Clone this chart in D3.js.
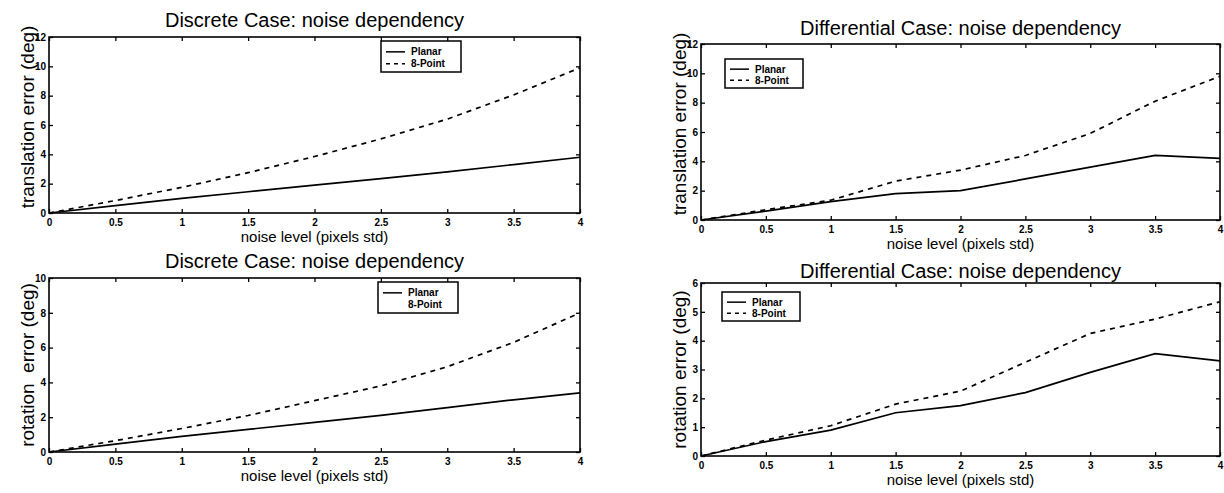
<!DOCTYPE html>
<html>
<head>
<meta charset="utf-8">
<script src="https://cdn.jsdelivr.net/npm/d3@7"></script>
<style>
  body { margin: 0; background: #fff; }
  svg { display: block; font-family: "Liberation Sans", Arial, Helvetica, sans-serif; }
</style>
</head>
<body>
<div id="chart"></div>
<script>
// Data
const noiseLevels = [0, 0.5, 1, 1.5, 2, 2.5, 3, 3.5, 4];
const xTickValues = [0, 0.5, 1, 1.5, 2, 2.5, 3, 3.5, 4];
const seriesNames = ["Planar", "8-Point"];

const discreteTransPlanar = [0, 0.5, 1.0, 1.45, 1.9, 2.35, 2.8, 3.3, 3.8];
const discreteTransEight  = [0, 0.85, 1.75, 2.75, 3.85, 5.05, 6.4, 8.05, 9.9];
const diffTransPlanar     = [0, 0.6, 1.25, 1.8, 2.0, 2.8, 3.6, 4.4, 4.2];
const diffTransEight      = [0, 0.7, 1.35, 2.65, 3.4, 4.4, 5.9, 8.1, 9.8];
const discreteRotPlanar   = [0, 0.45, 0.9, 1.3, 1.7, 2.1, 2.55, 3.0, 3.4];
const discreteRotEight    = [0, 0.65, 1.35, 2.1, 2.95, 3.8, 4.9, 6.3, 8.0];
const diffRotPlanar       = [0, 0.5, 0.9, 1.5, 1.75, 2.2, 2.9, 3.55, 3.3];
const diffRotEight        = [0, 0.55, 1.05, 1.8, 2.25, 3.25, 4.25, 4.75, 5.35];

const transTicks = [0, 2, 4, 6, 8, 10, 12];
const discRotTicks = [0, 2, 4, 6, 8, 10];
const diffRotTicks = [0, 1, 2, 3, 4, 5, 6];

const titles = ["Discrete Case: noise dependency", "Differential Case: noise dependency"];
const xLabel = "noise level (pixels std)";

// Panel layout
const panels = [
  { title: titles[0], yLabel: "translation error (deg)", yTicks: transTicks,
    series: [discreteTransPlanar, discreteTransEight],
    box: { x0: 49, x1: 580, y0: 37, y1: 213 }, titleY: 27, labelShift: -8,
    legend: { x: 381, y: 41, w: 80, h: 31, samples: [true, true] } },
  { title: titles[1], yLabel: "translation error (deg)", yTicks: transTicks,
    series: [diffTransPlanar, diffTransEight],
    box: { x0: 701, x1: 1220, y0: 44, y1: 220 }, titleY: 35, labelShift: -8,
    legend: { x: 725, y: 59, w: 78, h: 29, samples: [true, true] } },
  { title: titles[0], yLabel: "rotation  error (deg)", yTicks: discRotTicks,
    series: [discreteRotPlanar, discreteRotEight],
    box: { x0: 49, x1: 580, y0: 278, y1: 452 }, titleY: 268, labelShift: 0,
    legend: { x: 378, y: 282, w: 80, h: 31, samples: [true, false] } },
  { title: titles[1], yLabel: "rotation error (deg)", yTicks: diffRotTicks,
    series: [diffRotPlanar, diffRotEight],
    box: { x0: 701, x1: 1220, y0: 283, y1: 456 }, titleY: 278, labelShift: 0,
    legend: { x: 722, y: 292, w: 78, h: 29, samples: [true, true] } }
];

const svg = d3.select("#chart").append("svg")
    .attr("width", 1224)
    .attr("height", 493);

svg.append("rect").attr("width", 1224).attr("height", 493).attr("fill", "#fff");

const dashes = [null, "5,5"];

panels.forEach(p => {
  const b = p.box;
  const x = d3.scaleLinear().domain([0, 4]).range([b.x0, b.x1]);
  const y = d3.scaleLinear().domain([0, d3.max(p.yTicks)]).range([b.y1, b.y0]);

  const g = svg.append("g");

  // Lines
  const line = d3.line()
      .x((d, i) => x(noiseLevels[i]))
      .y(d => y(d));

  p.series.forEach((s, k) => {
    g.append("path")
        .datum(s)
        .attr("fill", "none")
        .attr("stroke", "#000")
        .attr("stroke-width", 1.7)
        .attr("stroke-dasharray", dashes[k])
        .attr("d", line);
  });

  // Axes, MATLAB style with inward ticks
  g.append("g")
      .attr("transform", `translate(0,${b.y1})`)
      .call(d3.axisBottom(x).tickValues(xTickValues).tickSize(-4).tickPadding(6)
        .tickFormat(d => String(d)));
  g.append("g")
      .attr("transform", `translate(${b.x0},0)`)
      .call(d3.axisLeft(y).tickValues(p.yTicks).tickSize(-4).tickPadding(3)
        .tickFormat(d => String(d)));
  g.append("g")
      .attr("transform", `translate(0,${b.y0})`)
      .call(d3.axisTop(x).tickValues(xTickValues).tickSize(-4).tickFormat(""));
  g.append("g")
      .attr("transform", `translate(${b.x1},0)`)
      .call(d3.axisRight(y).tickValues(p.yTicks).tickSize(-4).tickFormat(""));

  g.selectAll(".domain").remove();
  g.selectAll(".tick line").attr("stroke", "#000").attr("stroke-width", 1.3);
  g.selectAll(".tick text")
      .attr("font-family", "'Liberation Sans', Arial, sans-serif")
      .attr("font-size", 10)
      .attr("font-weight", "bold")
      .attr("fill", "#000");

  g.append("rect")
      .attr("x", b.x0).attr("y", b.y0)
      .attr("width", b.x1 - b.x0).attr("height", b.y1 - b.y0)
      .attr("fill", "none")
      .attr("stroke", "#000")
      .attr("stroke-width", 1.6);

  // Title
  g.append("text")
      .attr("x", (b.x0 + b.x1) / 2)
      .attr("y", p.titleY)
      .attr("text-anchor", "middle")
      .style("font-size", "20px")
      .text(p.title);

  // x label
  g.append("text")
      .attr("x", (b.x0 + b.x1) / 2)
      .attr("y", b.y1 + 29)
      .attr("text-anchor", "middle")
      .style("font-size", "15px")
      .text(xLabel);

  // y label
  g.append("text")
      .attr("transform", `translate(${b.x0 - 22},${(b.y0 + b.y1) / 2 + p.labelShift}) rotate(-90)`)
      .attr("text-anchor", "middle")
      .attr("dominant-baseline", "central")
      .style("font-size", "19px")
      .style("white-space", "pre")
      .text(p.yLabel);

  // Legend
  const L = p.legend;
  const lg = g.append("g").attr("transform", `translate(${L.x},${L.y})`);
  lg.append("rect")
      .attr("width", L.w).attr("height", L.h)
      .attr("fill", "#fff")
      .attr("stroke", "#000")
      .attr("stroke-width", 1.5);
  const rows = [L.h * 0.35, L.h * 0.73];
  seriesNames.forEach((name, k) => {
    if (L.samples[k]) {
      lg.append("line")
          .attr("x1", 5).attr("x2", 24)
          .attr("y1", rows[k]).attr("y2", rows[k])
          .attr("stroke", "#000")
          .attr("stroke-width", 1.5)
          .attr("stroke-dasharray", k === 1 ? "4,4" : null);
    }
    lg.append("text")
        .attr("x", 30)
        .attr("y", rows[k])
        .attr("dominant-baseline", "central")
        .style("font-size", "10px")
        .style("font-weight", "bold")
        .text(name);
  });
});
</script>
</body>
</html>
